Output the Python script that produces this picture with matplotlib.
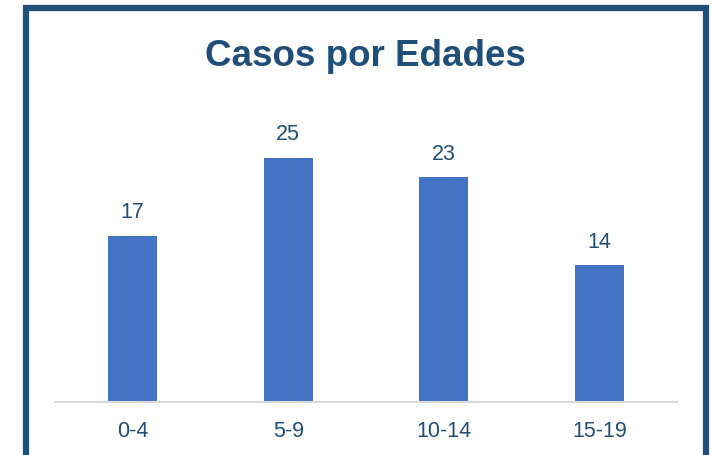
import matplotlib.pyplot as plt
from matplotlib.patches import Rectangle

plt.rcParams['font.family'] = ['Liberation Sans', 'DejaVu Sans']

categorias = ['0-4', '5-9', '10-14', '15-19']
casos = [17, 25, 23, 14]

azul_barra = '#4472C4'
azul_texto = '#1F4E79'

W, H = 715, 455
fig = plt.figure(figsize=(W / 100, H / 100), dpi=100)

# marco azul oscuro (sin borde inferior visible)
fig.add_artist(Rectangle((26 / W, -0.05), (706 - 26) / W, 1.05 - 8 / H,
                         transform=fig.transFigure, fill=False,
                         edgecolor=azul_texto, linewidth=4.5))

ax = fig.add_axes([55 / W, (H - 402) / H, (677 - 55) / W, (402 - 109) / H])
barras = ax.bar(range(len(categorias)), casos, width=0.315, color=azul_barra)
ax.set_xlim(-0.5, 3.5)
ax.set_ylim(0, 30)
ax.set_xticks(range(len(categorias)))
ax.set_xticklabels(categorias, fontsize=15.5, color=azul_texto)
ax.tick_params(axis='x', length=0, pad=13.5)
ax.set_yticks([])
for s in ['top', 'right', 'left']:
    ax.spines[s].set_visible(False)
ax.spines['bottom'].set_color('#D9D9D9')
ax.spines['bottom'].set_linewidth(1.5)

for b, v in zip(barras, casos):
    ax.annotate(str(v), (b.get_x() + b.get_width() / 2, v),
                xytext=(0, 9), textcoords='offset points',
                ha='center', va='bottom', fontsize=15.5, color=azul_texto)

fig.text(365 / W, 1 - 57 / H, 'Casos por Edades', ha='center', va='center',
         fontsize=26.5, fontweight='bold', color=azul_texto)

fig.savefig('out.png', dpi=100, facecolor='white')
